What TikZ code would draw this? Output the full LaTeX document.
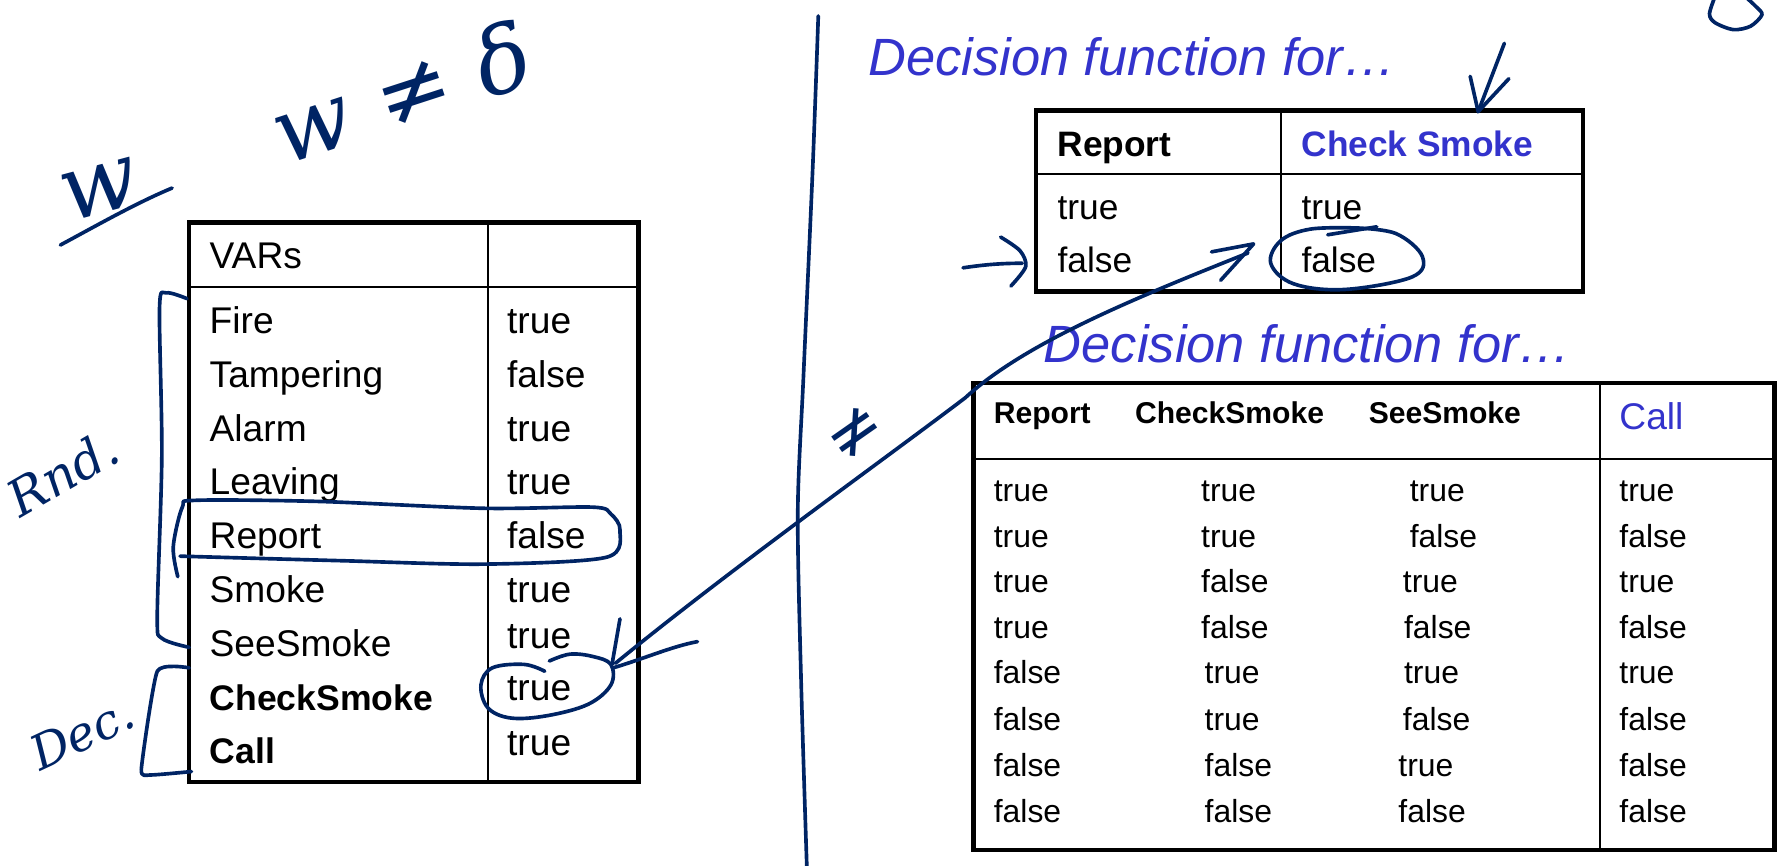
\documentclass[tikz,border=0pt]{standalone}
\usepackage{fontspec}
\setmainfont{Liberation Sans}
\newfontfamily\handfont{DejaVu Serif}
\definecolor{pen}{RGB}{0,36,100}
\definecolor{dfblue}{RGB}{51,51,204}
\newcommand{\fs}[1]{\fontsize{#1}{#1}\selectfont}
\begin{document}
\begin{tikzpicture}[x=0.5pt,y=-0.5pt,
  tbl/.style={line width=2pt},
  thinl/.style={line width=0.8pt},
  pen/.style={draw=pen,line width=1.6pt,line cap=round,line join=round},
  cell/.style={anchor=base west,inner sep=0pt,outer sep=0pt},
  L/.style={cell,font=\fs{16.3}},
  LB/.style={cell,font=\fs{15.6}\bfseries},
  U/.style={cell,font=\fs{15.5}},
  UB/.style={cell,font=\fs{15.5}\bfseries},
  S/.style={cell,font=\fs{14}},
  SB/.style={cell,font=\fs{13.2}\bfseries},
  ttl/.style={cell,font=\fs{23}\itshape,text=dfblue},
  hand/.style={text=pen,inner sep=0pt},
]
\useasboundingbox (0,0) rectangle (1568,759);

% ---------- left table ----------
\draw[tbl] (166,195) rectangle (560,686);
\draw[thinl] (428,195) -- (428,686);
\draw[thinl] (166,252) -- (560,252);
\node[L] (vars) at (184,236) {VARs};
\foreach \t/\y/\n in {Fire/281/1,Tampering/328/2,Alarm/375/3,Leaving/422/4,Report/469/5,Smoke/517/6,SeeSmoke/564/7}
  \node[L] (lab\n) at (184,\y+12) {\t};
\node[LB] (lab8) at (184,623) {CheckSmoke};
\node[LB] (lab9) at (184,670) {Call};
\foreach \t/\y/\n in {true/281/1,false/328/2,true/375/3,true/422/4,false/469/5,true/517/6,true/557/7,true/603/8,true/651/9}
  \node[L] (val\n) at (445,\y+12) {\t};

% ---------- titles ----------
\node[ttl] (title1) at (762,66.5) {Decision function for…};
\node[ttl] (title2) at (916,318.5) {Decision function for…};

% ---------- upper table ----------
\draw[tbl] (909,97) rectangle (1389,256);
\draw[thinl] (1124,97) -- (1124,256);
\draw[thinl] (909,153) -- (1389,153);
\node[UB] (uh1) at (928,137) {Report};
\node[UB,text=dfblue] (uh2) at (1142,137) {Check Smoke};
\node[U] (u11) at (928,193) {true};
\node[U] (u21) at (928,239) {false};
\node[U] (u12) at (1142,193) {true};
\node[U] (u22) at (1142,239) {false};

% ---------- lower table ----------
\draw[tbl] (854,336) rectangle (1557,746);
\draw[thinl] (1404,336) -- (1404,746);
\draw[thinl] (854,403) -- (1557,403);
\node[SB] (lh1) at (872,371.5) {Report};
\node[SB] (lh2) at (996,371.5) {CheckSmoke};
\node[SB] (lh3) at (1201,371.5) {SeeSmoke};
\node[cell,font=\fs{16.3},text=dfblue] (lh4) at (1421,376.7) {Call};
\foreach \y/\a/\xb/\b/\xc/\c/\d [count=\r] in {
  430/true/1054/true/1237/true/true,
  470/true/1054/true/1237/false/false,
  510/true/1054/false/1231/true/true,
  550/true/1054/false/1232/false/false,
  590/false/1057/true/1232/true/true,
  631/false/1057/true/1231/false/false,
  671/false/1057/false/1227/true/false,
  712/false/1057/false/1227/false/false}{
  \node[S] (ra\r) at (872,\y+10) {\a};
  \node[S] (rb\r) at (\xb,\y+10) {\b};
  \node[S] (rc\r) at (\xc,\y+10) {\c};
  \node[S] (rd\r) at (1421,\y+10) {\d};
}

% ---------- hand-drawn annotations ----------
% middle vertical line
\draw[pen] plot[smooth] coordinates {(718,14) (713,150) (705,330) (700,450) (703,600) (708,762)};
% handwritten text
\node[hand,rotate=15,font=\handfont\itshape\fs{40}] (w1) at (88,166) {w};
\draw[pen] (53,215) .. controls (90,195) and (120,178) .. (151,165);
\node[hand,rotate=18,font=\handfont\itshape\fs{40}] (wnd) at (352,80) {w ≠ δ};
\node[hand,rotate=30,font=\handfont\itshape\fs{22}] (rnd) at (55,415) {Rnd.};
\node[hand,rotate=25,font=\handfont\itshape\fs{21}] (dec) at (72,643) {Dec.};
\node[hand,rotate=35,font=\handfont\fs{30}] (neq2) at (750,380) {≠};
% brackets
\draw[pen] plot[smooth,tension=0.5] coordinates {(164,262) (146,257) (140,270) (142,400) (138,540) (142,560) (166,568)};
\draw[pen] plot[smooth,tension=0.3] coordinates {(166,586) (138,589) (124,675) (132,680) (168,677)};
% loop around Report row
\draw[pen] plot[smooth,tension=0.5] coordinates {(158,488) (300,492) (424,495) (532,489) (544,465) (536,451) (520,445) (424,446) (280,440) (172,439) (160,445) (152,480) (156,506)};
% circle around CheckSmoke value
\draw[pen] plot[smooth,tension=0.6] coordinates {(478,589) (460,583) (432,586) (422,601) (428,621) (448,630) (480,628) (516,618) (536,601) (536,583) (520,576) (500,574) (482,580)};
% circle around false in upper table
\draw[pen] plot[smooth,tension=0.6] coordinates {(1190,200) (1225,205) (1248,225) (1239,243) (1180,254) (1135,249) (1115,231) (1124,211) (1150,201) (1190,200)};
\draw[pen] (1165,206) -- (1208,199);
% arrow into upper table false row
\coordinate (la) at (845,235);
\coordinate (lb) at (897,231);
\draw[pen] (la) .. controls (865,232) and (880,231) .. (lb);
\draw[pen] plot[smooth] coordinates {(878,208) (895,220) (900,234) (887,251)};
% arrow above Check Smoke
\coordinate (da) at (1320,38);
\coordinate (db) at (1297,98);
\draw[pen] (da) -- (db);
\draw[pen] (1290,67) -- (db) -- (1324,69);
% big curved double arrow
\coordinate (cs) at (1095,222);
\coordinate (ce) at (540,582);
\draw[pen] (cs) .. controls (1000,260) and (900,300) .. (847,349) .. controls (780,400) and (640,500) .. (ce);
\draw[pen] (1063,221) -- (1100,214) -- (1071,246);
\draw[pen] (544,543) -- (537,583);
\draw[pen] (538,586) .. controls (565,578) and (590,567) .. (612,563);
% top-right loop
\draw[pen] plot[smooth] coordinates {(1528,-6) (1541,6) (1546,13) (1536,23) (1521,26) (1505,20) (1500,12) (1506,-6)};
\end{tikzpicture}
\end{document}
